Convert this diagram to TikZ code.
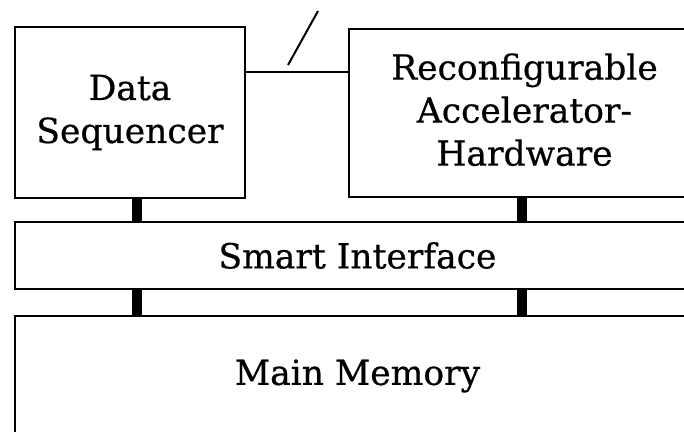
\documentclass[tikz,border=0pt]{standalone}
\usepackage{fontspec}
\setmainfont{DejaVu Serif}
\newfontfamily\boxfont[FakeBold=0.6]{DejaVu Serif}
\begin{document}
\begin{tikzpicture}[x=1pt,y=-1pt,
  box/.style={draw, line width=2pt, rectangle, inner sep=0pt, align=center,
    font=\boxfont\fontsize{34.5}{43}\selectfont},
  thin/.style={line width=2pt},
  bus/.style={line width=10pt}]
\useasboundingbox (0,0) rectangle (684,431);
\clip (0,0) rectangle (684,431);
\node[box, minimum width=230pt, minimum height=171pt] (ds) at (130,112.5) {Data\\Sequencer};
\node[box, minimum width=351pt, minimum height=168pt] (ra) at (524.5,113) {Reconfigurable\\Accelerator-\\Hardware\rule[-7pt]{0pt}{0pt}};
\node[box, minimum width=685pt, minimum height=67pt] (si) at (357.5,255.5) {Smart Interface};
\node[box, minimum width=685pt, minimum height=120pt] (mm) at (357.5,376) {Main Memory};
% link between sequencer and accelerator
\draw[thin] (ds.east |- 0,72) -- (ra.west |- 0,72);
\coordinate (s1) at (288,65);
\coordinate (s2) at (318,11);
\draw[thin] (s1) -- (s2);
% thick buses
\draw[bus] (ds.south -| 137,0) -- (si.north -| 137,0);
\draw[bus] (ra.south -| 522,0) -- (si.north -| 522,0);
\draw[bus] (si.south -| 137,0) -- (mm.north -| 137,0);
\draw[bus] (si.south -| 522,0) -- (mm.north -| 522,0);
\end{tikzpicture}
\end{document}
